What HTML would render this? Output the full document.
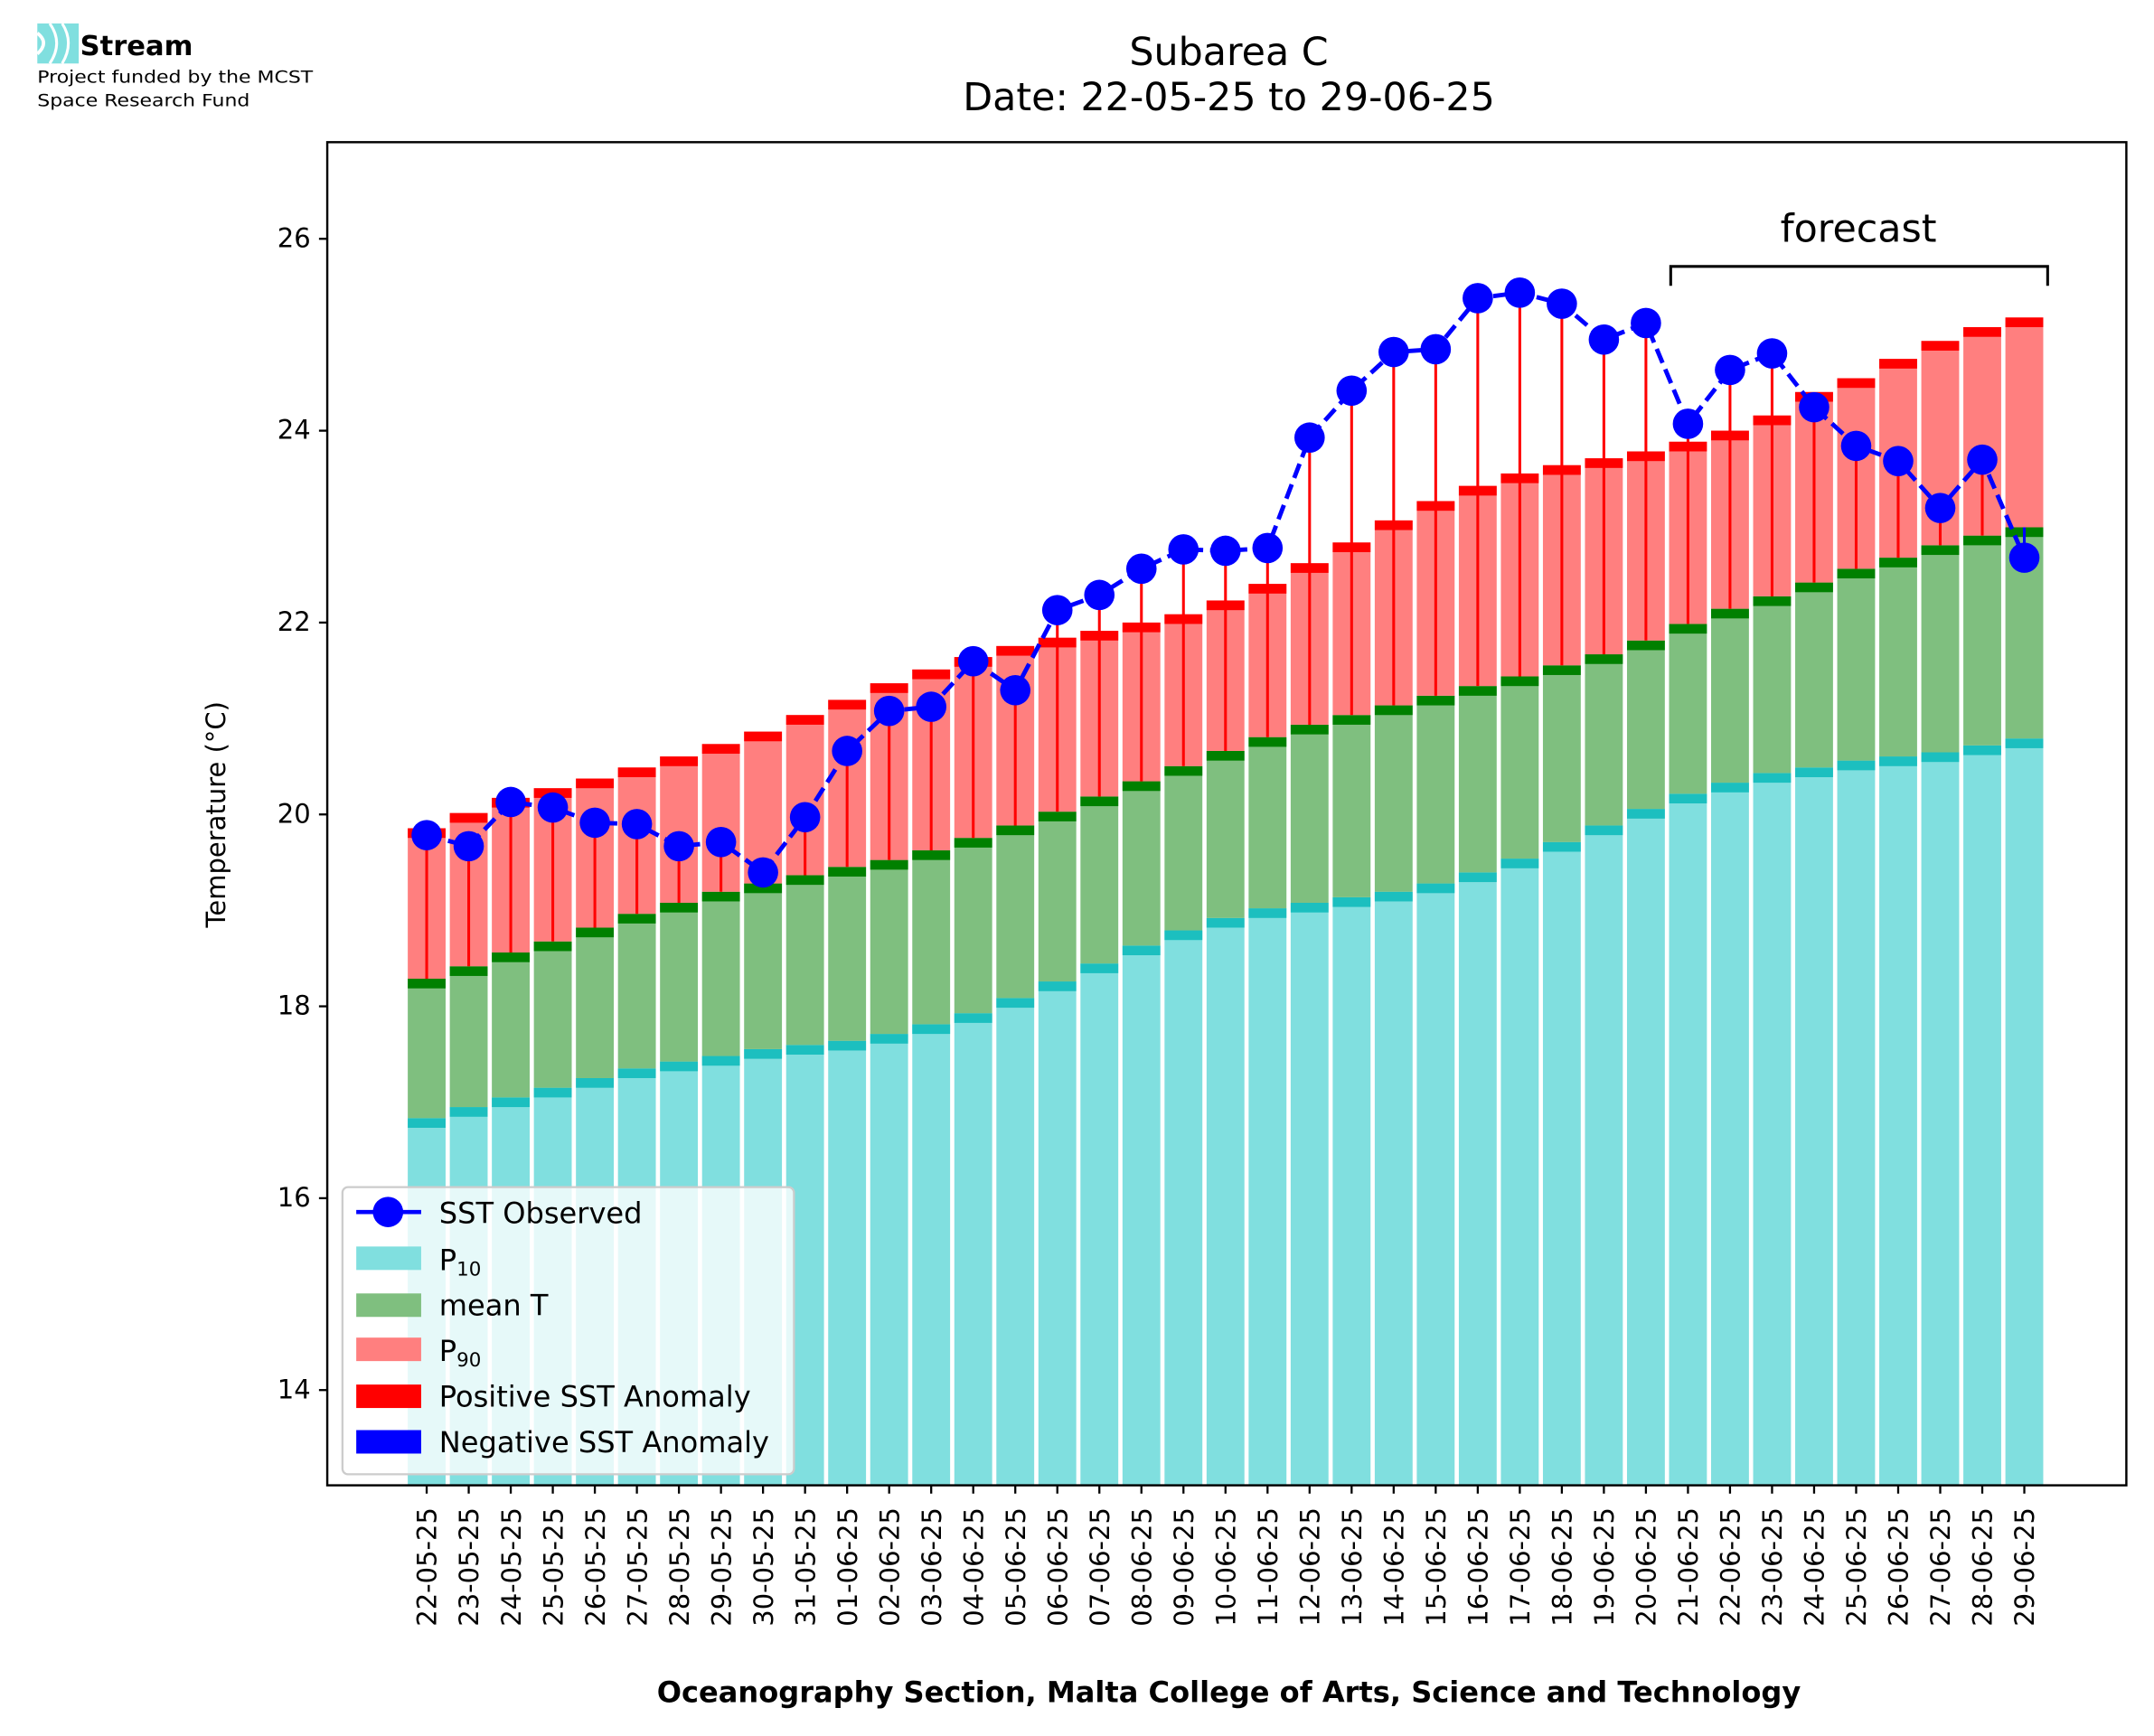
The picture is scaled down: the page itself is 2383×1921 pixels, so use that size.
<!DOCTYPE html>
<html><head><meta charset="utf-8"><style>html,body{margin:0;padding:0;background:#fff}svg{display:block}</style></head>
<body>
<svg id="c" xmlns="http://www.w3.org/2000/svg" width="2383" height="1921" viewBox="0 0 1560 1257.6" font-family="'DejaVu Sans','Liberation Sans',sans-serif">
<rect width="1560" height="1257.6" fill="#fff"/>
<g id="bars"></g>
<g id="anom"></g>
<g id="line"></g>
<rect x="237" y="103" width="1303" height="973" fill="none" stroke="#000" stroke-width="1.6"/>
<g id="ticks"></g>
<!-- legend -->
<rect x="248" y="860" width="327" height="208" rx="4" fill="#fff" fill-opacity="0.8" stroke="#ccc" stroke-width="1.5"/>
<line x1="258" y1="878" x2="305" y2="878" stroke="#00f" stroke-width="3"/>
<circle cx="281" cy="878" r="11" fill="#00f"/>
<rect x="258" y="903" width="47" height="17" fill="#80dfdf"/>
<rect x="258" y="937" width="47" height="17" fill="#7fbf7f"/>
<rect x="258" y="969" width="47" height="17" fill="#ff7f7f"/>
<rect x="258" y="1003" width="47" height="17" fill="#f00"/>
<rect x="258" y="1036" width="47" height="17" fill="#00f"/>
<g font-size="21" fill="#000">
<text x="318" y="886">SST Observed</text>
<text x="318" y="920">P<tspan font-size="14" dy="4">10</tspan></text>
<text x="318" y="953">mean T</text>
<text x="318" y="986">P<tspan font-size="14" dy="4">90</tspan></text>
<text x="318" y="1019">Positive SST Anomaly</text>
<text x="318" y="1052">Negative SST Anomaly</text>
</g>
<!-- forecast bracket -->
<path d="M1210 207 V193 H1483 V207" fill="none" stroke="#000" stroke-width="2"/>
<text x="1346" y="175" font-size="28" text-anchor="middle">forecast</text>
<!-- titles -->
<text x="890" y="47" font-size="28" text-anchor="middle">Subarea C</text>
<text x="890" y="80" font-size="28" text-anchor="middle">Date: 22-05-25 to 29-06-25</text>
<text transform="translate(163,590) rotate(-90)" font-size="19" text-anchor="middle">Temperature (°C)</text>
<text x="890" y="1233" font-size="21" font-weight="bold" text-anchor="middle">Oceanography Section, Malta College of Arts, Science and Technology</text>
<!-- logo -->
<g>
<rect x="27" y="17" width="30" height="29" fill="#80dfdf"/>
<path d="M27 24 Q36 31 27 39" fill="none" stroke="#fff" stroke-width="2.5"/>
<path d="M36 17 Q46 31 36 46" fill="none" stroke="#fff" stroke-width="2"/>
<path d="M45 17 Q54 31 45 46" fill="none" stroke="#fff" stroke-width="2"/>
<text x="58" y="40" font-size="20" font-weight="bold">Stream</text>
<text x="27" y="60" font-size="12" transform="translate(27,0) scale(1.2,1) translate(-27,0)">Project funded by the MCST</text>
<text x="27" y="77" font-size="12" transform="translate(27,0) scale(1.2,1) translate(-27,0)">Space Research Fund</text>
</g>
</svg>
<script>
var NS="http://www.w3.org/2000/svg";
function el(p,t,a,txt){var e=document.createElementNS(NS,t);for(var k in a)e.setAttribute(k,a[k]);if(txt)e.textContent=txt;p.appendChild(e);return e;}
var sst=[605,613,581,585,596,597,613,610,632,592,544,515,512,479,500,442,431,412,398,399,397,317,283,255,253,216,212,220,246,234,307,268,256,295,323,334,368,333,404];
var p10=[810,802,795,788,781,774,769,765,760,757,754,749,742,734,723,711,698,685,674,665,658,654,650,646,640,632,622,610,598,586,575,567,560,556,551,548,545,540,535];
var mn=[709,700,690,682,672,662,654,646,640,634,628,623,616,607,598,588,577,566,555,544,534,525,518,511,504,497,490,482,474,464,452,441,432,422,412,404,395,388,382];
var p90=[600,589,578,571,564,556,548,539,530,518,507,495,485,476,468,462,457,451,445,435,423,408,393,377,363,352,343,337,332,327,320,312,301,284,274,260,247,237,230];
var d0=new Date(2025,4,22);
var bars=document.getElementById('bars'),an=document.getElementById('anom'),ln=document.getElementById('line'),tk=document.getElementById('ticks');
var B=1076,W=27.4,S=7;
var pts=[];
for(var i=0;i<39;i++){
 var x=309+i*30.45, l=x-W/2;
 el(bars,'rect',{x:l,y:p10[i],width:W,height:B-p10[i],fill:'#80dfdf'});
 el(bars,'rect',{x:l,y:p10[i],width:W,height:S,fill:'#1cbfbf'});
 el(bars,'rect',{x:l,y:mn[i],width:W,height:p10[i]-mn[i],fill:'#7fbf7f'});
 el(bars,'rect',{x:l,y:mn[i],width:W,height:S,fill:'#008000'});
 el(bars,'rect',{x:l,y:p90[i],width:W,height:mn[i]-p90[i],fill:'#ff7f7f'});
 el(bars,'rect',{x:l,y:p90[i],width:W,height:S,fill:'#f00'});
 el(an,'line',{x1:x,y1:mn[i],x2:x,y2:sst[i],stroke:sst[i]<mn[i]?'#f00':'#00f','stroke-width':2});
 pts.push(x+','+sst[i]);
 el(tk,'line',{x1:x,y1:1076,x2:x,y2:1082,stroke:'#000','stroke-width':1.5});
 var d=new Date(d0.getTime()+i*86400000);
 var s=('0'+d.getDate()).slice(-2)+'-'+('0'+(d.getMonth()+1)).slice(-2)+'-25';
 el(tk,'text',{transform:'translate('+(x+7)+',1092) rotate(-90)','font-size':19,'text-anchor':'end'},s);
}
el(ln,'polyline',{points:pts.join(' '),fill:'none',stroke:'#00f','stroke-width':3.2,'stroke-dasharray':'11,5'});
for(var i=0;i<39;i++){var p=pts[i].split(',');el(ln,'circle',{cx:p[0],cy:p[1],r:11,fill:'#00f'});}
for(var v=14;v<=26;v+=2){var y=173+(26-v)*69.5;
 el(tk,'line',{x1:231,y1:y,x2:237,y2:y,stroke:'#000','stroke-width':1.5});
 el(tk,'text',{x:225,y:y+6,'font-size':19,'text-anchor':'end'},String(v));}
</script>
</body></html>
